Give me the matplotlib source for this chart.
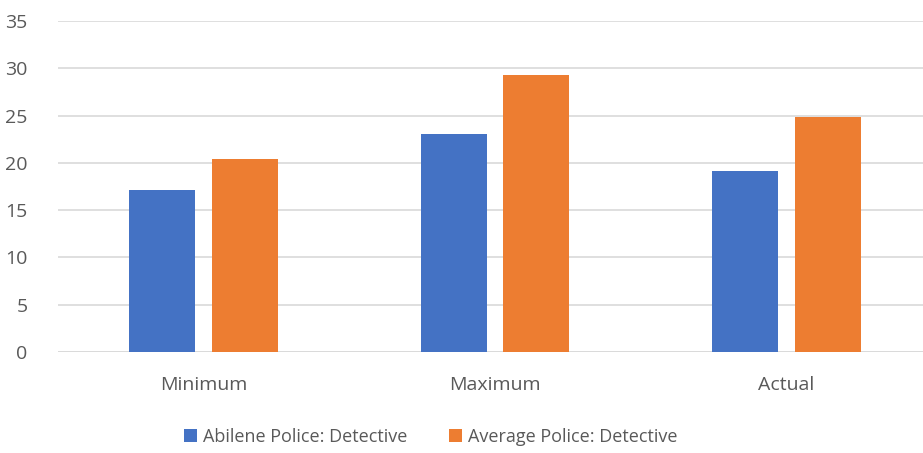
import numpy as np
import matplotlib
matplotlib.use('agg')
import matplotlib.pyplot as plt

categories = ['Minimum', 'Maximum', 'Actual']
abilene = [17.1, 23.0, 19.1]
average = [20.45, 29.3, 24.9]
series_names = ['Abilene Police: Detective', 'Average Police: Detective']

plt.rcParams['font.family'] = ['Open Sans', 'DejaVu Sans']

fig = plt.figure(figsize=(9.23, 4.53), dpi=100)
# plot area runs a little past the right edge of the figure
ax = fig.add_axes([58 / 923, 1 - 352 / 453, 874 / 923, 331 / 453])

x = np.arange(len(categories))
w = 0.226
off = 0.142
ax.bar(x - off, abilene, w, color='#4472C4', label=series_names[0], zorder=3)
ax.bar(x + off, average, w, color='#ED7D31', label=series_names[1], zorder=3)

ax.set_xlim(-0.5, 2.5)
ax.set_ylim(0, 35)
ax.set_yticks(range(0, 36, 5))
ax.set_xticks(x)
ax.set_xticklabels(categories)
ax.yaxis.grid(True, color='#D9D9D9', linewidth=1.2, zorder=0)
for s in ax.spines.values():
    s.set_visible(False)
ax.axhline(0, color='#D9D9D9', linewidth=1.2, zorder=1)
ax.tick_params(axis='both', length=0, labelsize=14, colors='#595959')
ax.tick_params(axis='y', pad=22)
ax.tick_params(axis='x', pad=17)

leg = fig.legend(loc='center', bbox_to_anchor=(431 / 923, 1 - 437 / 453), ncol=2, frameon=False,
                 fontsize=13, handlelength=0.7, handleheight=0.7, handletextpad=0.35,
                 columnspacing=2.3)
for t in leg.get_texts():
    t.set_color('#595959')

fig.savefig('out.png', dpi=100)
